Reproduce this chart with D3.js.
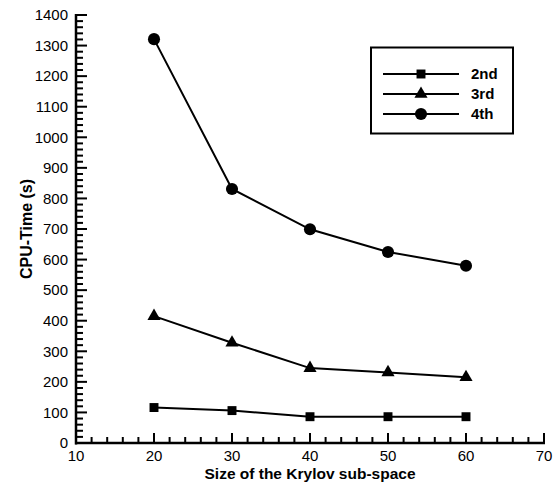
<!DOCTYPE html>
<html><head><meta charset="utf-8">
<script src="https://cdn.jsdelivr.net/npm/d3@7"></script>
<style>body{margin:0;background:#fff}svg{display:block}</style>
</head><body>
<svg id="c" width="560" height="486"></svg>
<script>
const xValues = [20, 30, 40, 50, 60];
const series2nd = [116, 106, 86, 86, 86];
const series3rd = [415, 328, 245, 231, 215];
const series4th = [1321, 831, 699, 625, 580];
const seriesNames = ["2nd", "3rd", "4th"];
const xTicks = [10, 20, 30, 40, 50, 60, 70];
const yTicks = [0,100,200,300,400,500,600,700,800,900,1000,1100,1200,1300,1400];

const svg = d3.select("#c");
const x = d3.scaleLinear().domain([10, 70]).range([76, 544]);
const y = d3.scaleLinear().domain([0, 1400]).range([443, 15]);
const font = "Liberation Sans, Arial, sans-serif";
const x0 = x(10), y0 = y(0);

// x ticks (minor every 2, major every 10)
svg.append("g").selectAll("line").data(d3.range(10, 70.1, 2)).enter().append("line")
  .attr("x1", d => x(d)).attr("x2", d => x(d))
  .attr("y1", y0).attr("y2", d => y0 - (d % 10 === 0 ? 10 : 6))
  .style("stroke", "#000").style("stroke-width", "2px");
// y ticks (minor every 20, major every 100)
svg.append("g").selectAll("line").data(d3.range(0, 1400.1, 20)).enter().append("line")
  .attr("x1", x0).attr("x2", d => x0 + (d % 100 === 0 ? 11 : 7))
  .attr("y1", d => y(d)).attr("y2", d => y(d))
  .style("stroke", "#000").style("stroke-width", "2px");

// tick labels
svg.append("g").selectAll("text").data(xTicks).enter().append("text")
  .attr("x", d => x(d)).attr("y", 461).attr("text-anchor", "middle")
  .attr("font-family", font).attr("font-size", 15).text(d => d);
svg.append("g").selectAll("text").data(yTicks).enter().append("text")
  .attr("x", 68).attr("y", d => y(d)).attr("dy", "0.35em").attr("text-anchor", "end")
  .attr("font-family", font).attr("font-size", 15).text(d => d);

// axis lines
svg.append("line").attr("x1", x0).attr("x2", x0).attr("y1", y(1400) - 1).attr("y2", y0 + 1.5)
  .style("stroke", "#000").style("stroke-width", "2.5px");
svg.append("line").attr("x1", x0 - 1).attr("x2", x(70) + 1).attr("y1", y0).attr("y2", y0)
  .style("stroke", "#000").style("stroke-width", "2.5px");

// titles
svg.append("text").attr("x", x(40)).attr("y", 479).attr("text-anchor", "middle")
  .attr("font-family", font).attr("font-weight", "bold").attr("font-size", 15.5).text("Size of the Krylov sub-space");
svg.append("text").attr("transform", "translate(32," + y(700) + ") rotate(-90)").attr("text-anchor", "middle")
  .attr("font-family", font).attr("font-weight", "bold").attr("font-size", 16).text("CPU-Time (s)");

// series
const allSeries = [series2nd, series3rd, series4th];
const symbols = [d3.symbolSquare, d3.symbolTriangle, d3.symbolCircle];
const sizes = [80, 75, 115];
const line = d3.line().x((d, i) => x(xValues[i])).y(d => y(d));
allSeries.forEach((vals, k) => {
  svg.append("path").attr("d", line(vals)).attr("fill", "none").style("stroke", "#000").style("stroke-width", "2px");
  svg.selectAll(null).data(vals).enter().append("path")
    .attr("d", d3.symbol().type(symbols[k]).size(sizes[k]))
    .attr("transform", (d, i) => `translate(${x(xValues[i])},${y(d)})`)
    .attr("fill", "#000");
});

// legend
const lg = svg.append("g");
lg.append("rect").attr("x", 371).attr("y", 47.5).attr("width", 142).attr("height", 86)
  .attr("fill", "#fff").style("stroke", "#000").style("stroke-width", "2px");
seriesNames.forEach((name, k) => {
  const ly = 74 + k * 20;
  lg.append("line").attr("x1", 383).attr("x2", 459).attr("y1", ly).attr("y2", ly).style("stroke", "#000").style("stroke-width", "2px");
  lg.append("path").attr("d", d3.symbol().type(symbols[k]).size(sizes[k])).attr("transform", `translate(421,${ly})`);
  lg.append("text").attr("x", 471).attr("y", ly).attr("dy", "0.35em").attr("font-family", font)
    .attr("font-weight", "bold").attr("font-size", 15).text(name);
});
</script>
</body></html>
